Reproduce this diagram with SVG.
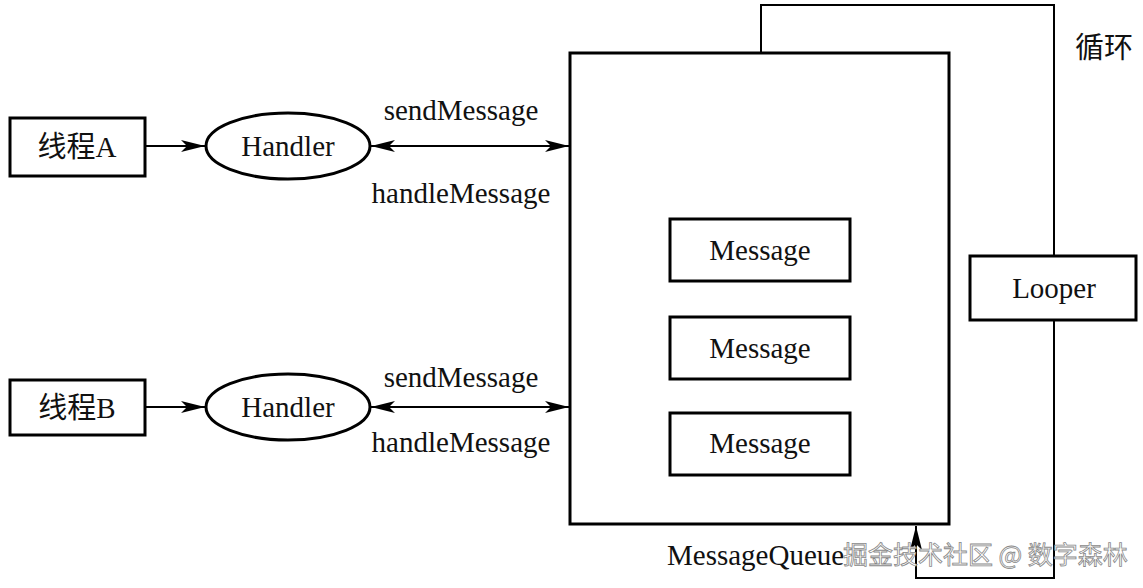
<svg xmlns="http://www.w3.org/2000/svg" width="1143" height="588" viewBox="0 0 1143 588">
<style>
.b{fill:#fff;stroke:#000;stroke-width:3}
.l{fill:none;stroke:#000;stroke-width:2}
text{font-family:"Liberation Serif","Noto Sans CJK SC",serif;font-size:29px;fill:#111}
.m{text-anchor:middle}
.wm{font-family:"Noto Sans CJK SC",sans-serif;font-size:25px;fill:#fff;stroke:#888;stroke-width:0.8}
</style>
<defs>
<marker id="a" viewBox="0 0 24 12" refX="24" refY="6" markerWidth="24" markerHeight="12" markerUnits="userSpaceOnUse" orient="auto-start-reverse"><path d="M0,0 L24,6 L0,12 L6,6 Z" fill="#000"/></marker>
</defs>
<g id="connectors">
<path class="l" d="M761,53 V5 H1054 V578 H916 V526" marker-end="url(#a)"/>
<line class="l" x1="145" y1="146" x2="205" y2="146" marker-end="url(#a)"/>
<line class="l" x1="145" y1="407" x2="205" y2="407" marker-end="url(#a)"/>
<line class="l" x1="371" y1="146" x2="569" y2="146" marker-start="url(#a)" marker-end="url(#a)"/>
<line class="l" x1="371" y1="407" x2="569" y2="407" marker-start="url(#a)" marker-end="url(#a)"/>
<text x="461" y="120" class="m">sendMessage</text>
<text x="461" y="203" class="m">handleMessage</text>
<text x="461" y="387" class="m">sendMessage</text>
<text x="461" y="452" class="m">handleMessage</text>
<text x="1104" y="58" class="m">循环</text>
</g>
<g id="queue"><rect class="b" x="570" y="53" width="379" height="471"/><text x="667" y="565">MessageQueue</text></g>
<g id="msg1"><rect class="b" x="670" y="219" width="180" height="62"/><text x="760" y="260" class="m">Message</text></g>
<g id="msg2"><rect class="b" x="670" y="317" width="180" height="62"/><text x="760" y="358" class="m">Message</text></g>
<g id="msg3"><rect class="b" x="670" y="413" width="180" height="62"/><text x="760" y="453" class="m">Message</text></g>
<g id="looper"><rect class="b" x="970" y="256" width="166" height="64"/><text x="1054" y="298" class="m">Looper</text></g>
<g id="threadA"><rect class="b" x="10" y="118" width="135" height="58"/><text x="77" y="157" class="m">线程A</text></g>
<g id="threadB"><rect class="b" x="10" y="380" width="135" height="55"/><text x="77" y="418" class="m">线程B</text></g>
<g id="handlerA"><ellipse class="b" cx="288" cy="146" rx="82" ry="33"/><text x="288" y="156" class="m">Handler</text></g>
<g id="handlerB"><ellipse class="b" cx="288" cy="407" rx="82" ry="33"/><text x="288" y="417" class="m">Handler</text></g>
<text x="843" y="564" class="wm">掘金技术社区 @ 数字森林</text>
</svg>
